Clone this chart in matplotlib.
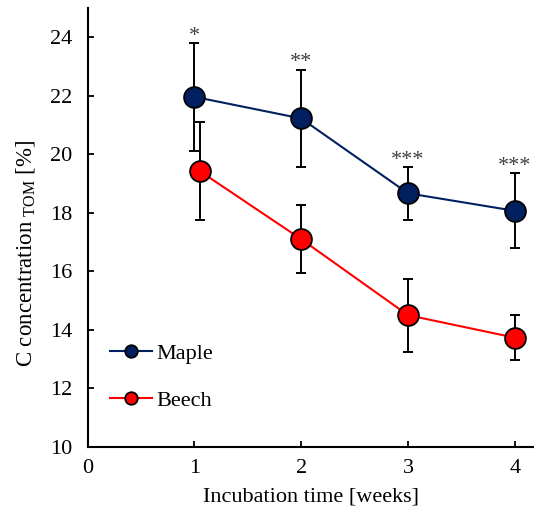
import numpy as np
import matplotlib.pyplot as plt

plt.rcParams['font.family'] = ['Liberation Serif', 'DejaVu Serif']
plt.rcParams['mathtext.fontset'] = 'custom'
plt.rcParams['mathtext.rm'] = 'Liberation Serif'

# incubation data (mean and error bar ends)
weeks_maple = [1.0, 2.0, 3.0, 4.0]
weeks_beech = [1.05, 2.0, 3.0, 4.0]
maple = [21.97, 21.23, 18.67, 18.07]
maple_err = [1.85, 1.67, 0.90, 1.28]
beech = [19.43, 17.10, 14.50, 13.73]
beech_err = [1.67, 1.16, 1.25, 0.76]
stars = ['*', '**', '***', '***']

fig = plt.figure(figsize=(5.34, 5.17), dpi=100)
ax = fig.add_axes([0.164, 0.136, 0.836, 0.848])

ax.errorbar(weeks_maple, maple, yerr=maple_err, fmt='none', ecolor='black',
            elinewidth=1.4, capsize=3.5, capthick=1.4, zorder=2)
ax.errorbar(weeks_beech, beech, yerr=beech_err, fmt='none', ecolor='black',
            elinewidth=1.4, capsize=3.5, capthick=1.4, zorder=2)

ax.plot(weeks_maple, maple, '-o', color='#002060', lw=1.5, ms=15,
        mfc='#002060', mec='black', mew=1.3, zorder=3, label='Maple')
ax.plot(weeks_beech, beech, '-o', color='#FF0000', lw=1.5, ms=15,
        mfc='#FF0000', mec='black', mew=1.3, zorder=3, label='Beech')

# significance marks above maple error bars
for x, m, e, s in zip(weeks_maple, maple, maple_err, stars):
    ax.annotate(s, (x, m + e), xytext=(0, -2), textcoords='offset points',
                ha='center', va='bottom', fontsize=16, color='#404040')

ax.set_xlim(0, 4.18)
ax.set_ylim(10, 25)
ax.set_xticks([0, 1, 2, 3, 4])
ax.set_yticks(np.arange(10, 25, 2))

for side in ['top', 'right']:
    ax.spines[side].set_visible(False)
for side in ['left', 'bottom']:
    ax.spines[side].set_linewidth(1.5)

ax.tick_params(axis='both', direction='in', length=4.5, width=1.3,
               labelsize=16)
ax.tick_params(axis='x', pad=9)
ax.tick_params(axis='y', pad=11)

ax.set_xlabel('Incubation time [weeks]', fontsize=16, labelpad=7)
ax.set_ylabel(r'C concentration$_{\ \mathrm{TOM}}$ [%]', fontsize=16.5)
ax.yaxis.set_label_coords(-0.112, 0.442)

leg = ax.legend(loc='lower left', bbox_to_anchor=(0.005, 0.036), frameon=False,
                fontsize=16, markerscale=0.6, handlelength=1.9,
                handletextpad=0.2, labelspacing=1.2)

fig.savefig('out.png', dpi=100)
